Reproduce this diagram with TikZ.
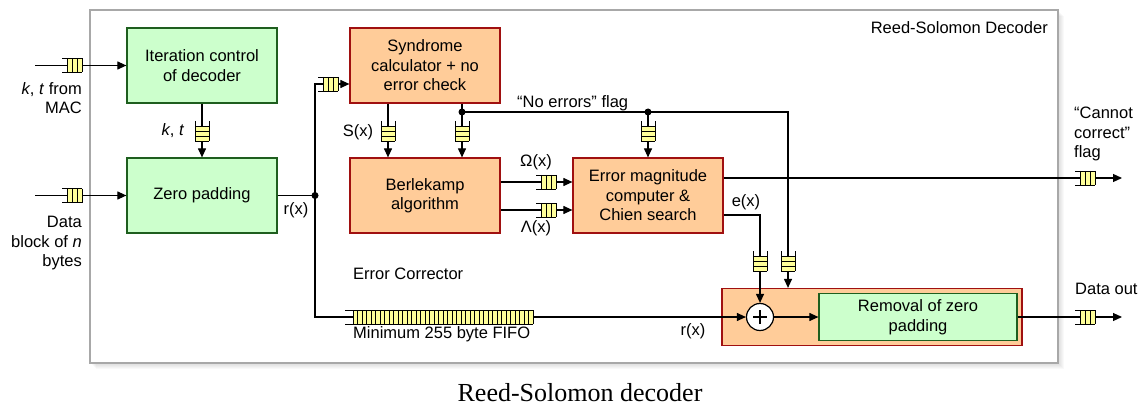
\documentclass[tikz,border=0pt]{standalone}
\usepackage{fontspec}
\setmainfont{Liberation Sans}
\newfontfamily\capfont{Liberation Serif}
\usetikzlibrary{arrows.meta}
\definecolor{boxgreen}{HTML}{CCFFCC}
\definecolor{edgegreen}{HTML}{1E5E1E}
\definecolor{boxorange}{HTML}{FFCC99}
\definecolor{edgered}{HTML}{A01010}
\definecolor{fifoyellow}{HTML}{FFFF99}
\definecolor{framegray}{HTML}{A8A8A8}
\tikzset{
  fifo/.pic={
    \fill[fifoyellow] (-5,-7) rectangle (10,7);
    \draw[line width=0.9pt] (-10,-7) -- (10,-7) (-10,7) -- (10,7);
    \foreach \u in {-5,0,5,10} \draw[line width=0.9pt] (\u,-7) -- (\u,7);
  }
}
\begin{document}
\begin{tikzpicture}[x=1pt,y=-1pt,
  font=\fontsize{16.5}{19.5}\selectfont,
  conn/.style={line width=1.1pt},
  arr/.style={conn,-{Triangle[length=9pt,width=8pt]}},
  greenbox/.style={draw=edgegreen, fill=boxgreen, line width=1.2pt,
    minimum width=150pt, minimum height=75pt, align=center, inner sep=2pt},
  orangebox/.style={draw=edgered, fill=boxorange, line width=1.2pt,
    minimum width=150pt, minimum height=75pt, align=center, inner sep=2pt},
  lbl/.style={inner sep=0pt},
  dot/.style={circle, fill=black, inner sep=0pt, minimum size=7pt},
]
\useasboundingbox (0,0) rectangle (1147,406);

% outer frame with a soft shadow
\foreach \s in {1,...,6}
  \fill[black,opacity=0.022] (90+\s,10+\s) rectangle (1058+\s,363+\s);
\draw[framegray, fill=white, line width=1.2pt] (90,10) rectangle (1058,363);
\node[lbl, anchor=east] (title) at (1048,28) {Reed-Solomon Decoder};

% processing blocks
\node[greenbox] (iter) at (202,65.5) {Iteration control\\of decoder};
\node[greenbox] (zp) at (202,195.5) {Zero padding};
\node[orangebox] (syn) at (425,65.5) {Syndrome\\calculator + no\\error check};
\node[orangebox] (ber) at (425,195.5) {Berlekamp\\algorithm};
\node[orangebox] (em) at (648,195.5) {Error magnitude\\computer \&\\Chien search};
\node[orangebox, minimum width=300pt, minimum height=57pt] (big) at (872,317) {};
\node[greenbox, minimum width=198pt, minimum height=47pt] (rem) at (918,317) {Removal of zero\\padding};
\node[circle, draw, fill=white, line width=1.2pt, minimum size=27pt, inner sep=0pt] (plus) at (760,317) {};
\draw[line width=1.6pt] ([xshift=-7pt]plus.center) -- ([xshift=7pt]plus.center)
                        ([yshift=-7pt]plus.center) -- ([yshift=7pt]plus.center);

% free ends and junctions
\coordinate (kin) at (35,65.5);
\coordinate (din) at (35,195.5);
\coordinate (j1) at (315,195.5);
\coordinate (j2) at (462,112);
\coordinate (j3) at (648,112);
\coordinate (nbend) at (788,112);
\coordinate (ccout) at (1122,178);
\coordinate (dout) at (1122,317);

% connectors
\draw[arr] (kin) -- (iter.west);
\draw[arr] (din) -- (zp.west);
\draw[arr] (iter.south) -- (zp.north);
\draw[conn] (zp.east) -- (j1);
\draw[arr] (j1) |- ([yshift=-18.5pt]syn.west);
\draw[arr] (j1) |- (plus.west);
\draw[arr] ([xshift=-37pt]syn.south) -- ([xshift=-37pt]ber.north);
\draw[arr] ([xshift=37pt]syn.south) -- ([xshift=37pt]ber.north);
\draw[arr] (j2) -- (nbend) -- (nbend |- big.north);
\draw[arr] (j3) -- (em.north);
\draw[arr] ([yshift=13.5pt]ber.east) -- ([yshift=13.5pt]em.west);
\draw[arr] ([yshift=-14.5pt]ber.east) -- ([yshift=-14.5pt]em.west);
\draw[arr] ([yshift=17.5pt]em.east) -- (ccout);
\draw[arr] ([yshift=-19.5pt]em.east) -| (plus.north);
\draw[arr] (plus.east) -- (rem.west);
\draw[arr] (rem.east) -- (dout);

\node[dot] (d1) at (j1) {};
\node[dot] (d2) at (j2) {};
\node[dot] (d3) at (j3) {};

% FIFO buffers
\pic at (72,65.5) {fifo};
\pic at (72,195.5) {fifo};
\pic[rotate=-90] at (202,131) {fifo};
\pic at (328,84) {fifo};
\pic[rotate=-90] at (388,131) {fifo};
\pic[rotate=-90] at (462,131) {fifo};
\pic[rotate=-90] at (648,131) {fifo};
\pic at (546,182) {fifo};
\pic at (546,210) {fifo};
\pic at (1085,178) {fifo};
\pic at (1085,317) {fifo};
\pic[rotate=-90] at (760,261) {fifo};
\pic[rotate=-90] at (788,261) {fifo};
% long delay line
\fill[fifoyellow] (353,310) rectangle (533,324);
\draw[line width=0.9pt] (345,310) -- (533,310) (345,324) -- (533,324);
\foreach \i in {0,...,40} \draw[line width=0.7pt] (353+\i*4.5,310) -- (353+\i*4.5,324);

% labels
\node[lbl, anchor=north east, align=right] (kmac) at (82,82) {\textit{k}, \textit{t} from\\MAC};
\node[lbl, anchor=north east, align=right] (dblk) at (82,216) {Data\\block of \textit{n}\\bytes};
\node[lbl] (ktl) at (173,131) {\textit{k}, \textit{t}};
\node[lbl] (rx1) at (296,210) {r(x)};
\node[lbl] (sx) at (358,132) {S(x)};
\node[lbl, anchor=west] (noerr) at (517,103) {“No errors” flag};
\node[lbl] (om) at (536,162) {Ω(x)};
\node[lbl] (la) at (536,228) {Λ(x)};
\node[lbl] (ex) at (746,202) {e(x)};
\node[lbl, anchor=north west, align=left] (cannot) at (1074,107) {“Cannot\\correct”\\flag};
\node[lbl, anchor=west] (dol) at (1075,289) {Data out};
\node[lbl, anchor=west] (ecl) at (353,274) {Error Corrector};
\node[lbl, anchor=west] (mfl) at (353,334) {Minimum 255 byte FIFO};
\node[lbl] (rx2) at (693,331) {r(x)};
\node[lbl, anchor=base, font=\capfont\fontsize{26}{30}\selectfont] (cap) at (580,401) {Reed-Solomon decoder};
\end{tikzpicture}
\end{document}
